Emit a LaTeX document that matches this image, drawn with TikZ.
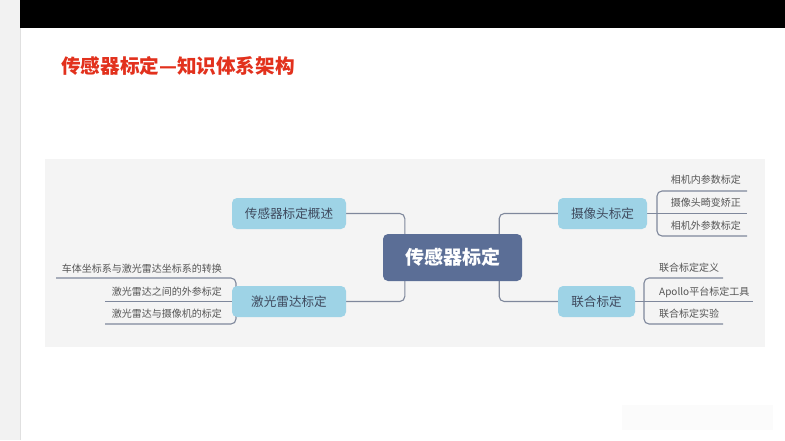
\documentclass[tikz,border=0pt]{standalone}
\usepackage{fontspec}
\newfontfamily\cjk{Noto Sans CJK SC}
\definecolor{titlered}{HTML}{E2311D}
\definecolor{panelgray}{HTML}{F4F4F4}
\definecolor{stripgray}{HTML}{F2F2F2}
\definecolor{centralblue}{HTML}{5B6E96}
\definecolor{lightblue}{HTML}{9ED3E6}
\definecolor{linegray}{HTML}{7F889C}
\definecolor{childtext}{HTML}{555555}
\definecolor{maintext}{HTML}{3F4A5E}
\pgfdeclarelayer{bg}
\pgfdeclarelayer{lines}
\pgfsetlayers{bg,lines,main}
\tikzset{
  centralbox/.style={fill=centralblue, rounded corners=5pt, minimum width=139pt, minimum height=47pt, inner sep=0pt, text=white, font=\cjk\bfseries\fontsize{19}{22}\selectfont},
  topicbox/.style={fill=lightblue, rounded corners=5pt, minimum height=31pt, inner sep=0pt, text=maintext, font=\cjk\fontsize{12.6}{15}\selectfont},
  childlabel/.style={inner sep=0pt, text=childtext, font=\cjk\fontsize{10}{12}\selectfont},
  conn/.style={draw=linegray, line width=1.1pt, rounded corners=5pt},
}
\begin{document}
\begin{tikzpicture}[x=1pt,y=-1pt]
\useasboundingbox (0,0) rectangle (785,440);
\begin{pgfonlayer}{bg}
\fill[white] (0,0) rectangle (785,440);
\fill[stripgray] (0,0) rectangle (20,440);
\draw[draw=black!12, line width=0.8pt] (20,0) -- (20,440);
\fill[black] (20,0) rectangle (785,28);
\fill[panelgray] (45,159) rectangle (765,347);
\fill[black!1.5] (622,405) rectangle (773,430);
\end{pgfonlayer}

\node[anchor=west, inner sep=0pt, text=titlered, font=\cjk\bfseries\fontsize{19.6}{24}\selectfont] (title) at (61,66) {传感器标定—知识体系架构};

\node[centralbox] (central) at (452.5,257.5) {传感器标定};
\node[topicbox, minimum width=114pt] (overview) at (289,213.5) {传感器标定概述};
\node[topicbox, minimum width=114pt] (lidar) at (289,301.5) {激光雷达标定};
\node[topicbox, minimum width=89pt] (camera) at (602.5,213.5) {摄像头标定};
\node[topicbox, minimum width=77pt] (joint) at (596.5,301.5) {联合标定};

% camera children
\node[childlabel, anchor=base east] (cam1) at (741,183.5) {相机内参数标定};
\node[childlabel, anchor=base east] (cam2) at (741,206.5) {摄像头畸变矫正};
\node[childlabel, anchor=base east] (cam3) at (741,229.5) {相机外参数标定};
% joint children
\node[childlabel, anchor=base west] (jo1) at (659,271.5) {联合标定定义};
\node[childlabel, anchor=base west] (jo2) at (659,295.5) {Apollo平台标定工具};
\node[childlabel, anchor=base west] (jo3) at (659,317.5) {联合标定实验};
% lidar children
\node[childlabel, anchor=base east] (li1) at (222,272.5) {车体坐标系与激光雷达坐标系的转换};
\node[childlabel, anchor=base east] (li2) at (222,295.5) {激光雷达之间的外参标定};
\node[childlabel, anchor=base east] (li3) at (222,317.5) {激光雷达与摄像机的标定};

\coordinate (camE1) at (747,191);
\coordinate (camE2) at (747,213.5);
\coordinate (camE3) at (747,236);
\coordinate (camB) at (657,213.5);
\coordinate (joE1) at (723,278);
\coordinate (joE2) at (753,301.5);
\coordinate (joE3) at (723,324);
\coordinate (joB) at (644,301.5);
\coordinate (liE1) at (56,278);
\coordinate (liE2) at (105,301.5);
\coordinate (liE3) at (105,324);
\coordinate (liB) at (236,301.5);

\begin{pgfonlayer}{lines}
\draw[conn] (overview.east) -| ([xshift=22pt]central.north west);
\draw[conn] (lidar.east) -| ([xshift=22pt]central.south west);
\draw[conn] (camera.west) -| ([xshift=-23pt]central.north east);
\draw[conn] (joint.west) -| ([xshift=-23pt]central.south east);

\draw[conn] (camera.east) -- (camE2);
\draw[conn] (camE1) -| (camB) |- (camE3);
\draw[conn] (joint.east) -- (joE2);
\draw[conn] (joE1) -| (joB) |- (joE3);
\draw[conn] (lidar.west) -- (liE2);
\draw[conn] (liE1) -| (liB) |- (liE3);
\end{pgfonlayer}
\end{tikzpicture}
\end{document}
